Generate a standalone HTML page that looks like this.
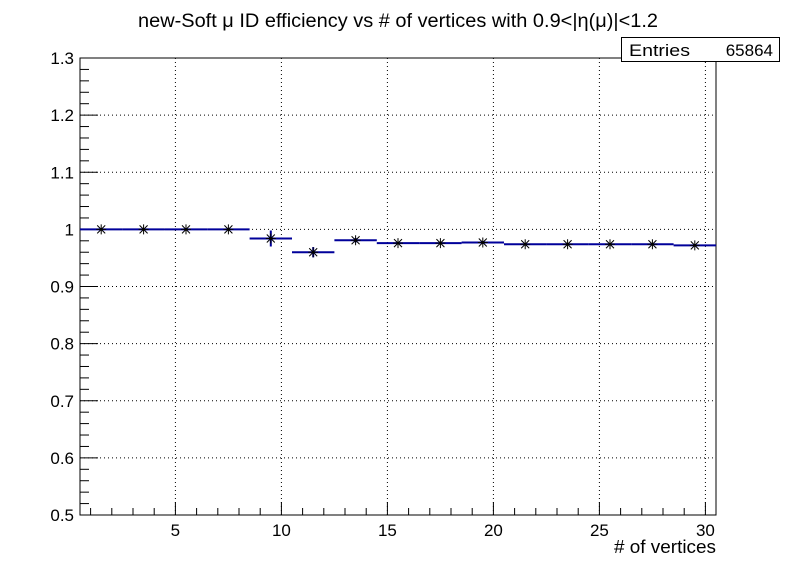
<!DOCTYPE html>
<html><head><meta charset="utf-8"><style>body{margin:0;background:#fff}svg{display:block;font-family:"Liberation Sans",sans-serif}</style></head>
<body>
<svg id="c" width="796" height="572"></svg>
<script>
const binCenters=[1.5,3.5,5.5,7.5,9.5,11.5,13.5,15.5,17.5,19.5,21.5,23.5,25.5,27.5,29.5];
const effValues=[1.0,1.0,1.0,1.0,0.984,0.960,0.981,0.976,0.976,0.977,0.974,0.974,0.974,0.974,0.972];
const effErrors=[0.001,0.001,0.001,0.002,0.014,0.009,0.004,0.002,0.002,0.002,0.002,0.002,0.002,0.002,0.002];
const xTicks=[5,10,15,20,25,30];
const yTicks=[0.5,0.6,0.7,0.8,0.9,1,1.1,1.2,1.3];
const L=80,R=716,T=58,B=515,x0=0.5,x1=30.5,y0=0.5,y1=1.3,bw=2;
const X=v=>L+(v-x0)/(x1-x0)*(R-L), Y=v=>B-(v-y0)/(y1-y0)*(B-T);
const s=document.getElementById('c'),NS='http://www.w3.org/2000/svg';
function mk(t,a,p){const e=document.createElementNS(NS,t);for(const k in a)e.setAttribute(k,a[k]);(p||s).appendChild(e);return e;}
let e;
xTicks.forEach(v=>{e=mk('line',{x1:X(v),x2:X(v),y1:T,y2:B,stroke:'#000','stroke-dasharray':'1,3'});

});
yTicks.slice(1,-1).forEach(v=>{e=mk('line',{x1:L,x2:R,y1:Y(v),y2:Y(v),stroke:'#000','stroke-dasharray':'1,3'});

});
e=mk('rect',{x:L,y:T,width:R-L,height:B-T,fill:'none',stroke:'#000'});


for(let v=1;v<=30;v++){const big=v%5==0;e=mk('line',{x1:X(v),x2:X(v),y1:B,y2:B-(big?13:7),stroke:'#000'});

}
xTicks.forEach(v=>{e=mk('text',{x:X(v),y:B+21,'text-anchor':'middle','font-size':17});e.textContent=v;

});
for(let i=0;i<=40;i++){const v=y0+i*0.02;const big=i%5==0;e=mk('line',{x1:L,x2:L+(big?18:9),y1:Y(v),y2:Y(v),stroke:'#000'});

}
yTicks.forEach(v=>{e=mk('text',{x:L-6,y:Y(v)+6,'text-anchor':'end','font-size':17});e.textContent=String(v);

});
binCenters.forEach((c,i)=>{const g=mk('g',{});


const y=Y(effValues[i]);
mk('line',{x1:X(c-bw/2),x2:Math.min(X(c+bw/2),R),y1:y,y2:y,stroke:'#00009a','stroke-width':2},g);
mk('line',{x1:X(c),x2:X(c),y1:Y(effValues[i]+effErrors[i]),y2:Y(effValues[i]-effErrors[i]),stroke:'#00009a','stroke-width':2},g);
const xc=X(c),r=5;
mk('path',{d:`M${xc-r},${y}H${xc+r}M${xc},${y-r}V${y+r}M${xc-4},${y-4}L${xc+4},${y+4}M${xc-4},${y+4}L${xc+4},${y-4}`,stroke:'#000','stroke-width':1},g);
});
</script>
<svg style="position:absolute;left:0;top:0" width="796" height="572">
<text x="398" y="27" text-anchor="middle" font-size="19" textLength="520" lengthAdjust="spacingAndGlyphs">new-Soft μ ID efficiency vs # of vertices with 0.9&lt;|η(μ)|&lt;1.2</text>
<text x="716" y="553" text-anchor="end" font-size="18" textLength="102" lengthAdjust="spacingAndGlyphs"># of vertices</text>
<g>
<rect x="621.5" y="37.5" width="158" height="24" fill="#fff" stroke="#000"/>
<text x="629" y="56" font-size="17" textLength="61" lengthAdjust="spacingAndGlyphs">Entries</text>
<text x="773" y="56" font-size="17" text-anchor="end">65864</text>
</g>
</svg>
</body></html>
